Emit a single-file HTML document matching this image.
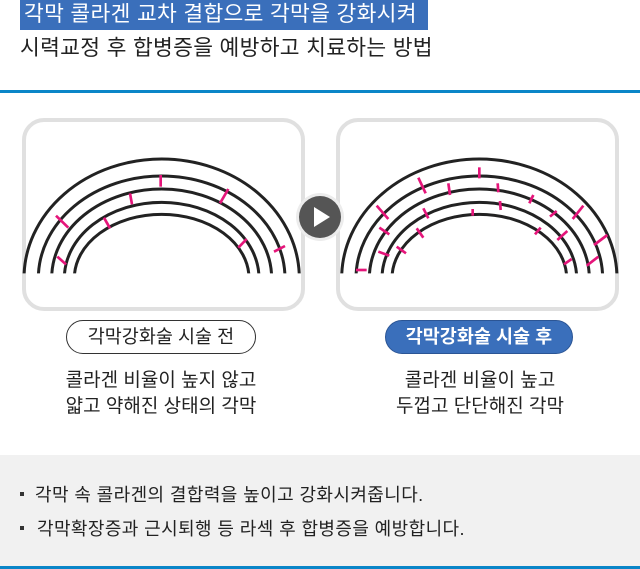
<!DOCTYPE html>
<html><head><meta charset="utf-8"><style>
body{margin:0;width:640px;height:569px;position:relative;background:#fff;font-family:"Liberation Sans","Noto Sans CJK KR",sans-serif;overflow:hidden}
.abs{position:absolute;white-space:nowrap}
.title{left:20px;top:0;width:408px;height:30px;background:#3a6fbb;color:#fff;font-size:21.5px;line-height:29px;padding-left:4px;box-sizing:border-box;letter-spacing:0.3px}
.sub{left:20px;top:33px;font-size:21.5px;color:#222;line-height:30px;letter-spacing:0.3px}
.line{left:0;width:640px;height:3px;background:#0a86c8}
.box{border:4px solid #e0e0e0;border-radius:22px;background:#fff;box-sizing:border-box}
.pill{height:34px;border-radius:17px;box-sizing:border-box;font-size:18.5px;line-height:31px;text-align:center}
.desc{font-size:19px;color:#222;line-height:26px;text-align:center}
.bul{left:35px;font-size:18px;color:#222;letter-spacing:0.4px}
.sq{position:absolute;left:20px;width:4px;height:4px;background:#333}
</style></head><body>
<div class="abs title">각막 콜라겐 교차 결합으로 각막을 강화시켜</div>
<div class="abs sub">시력교정 후 합병증을 예방하고 치료하는 방법</div>
<div class="abs line" style="top:90px"></div>

<div class="abs box" style="left:22px;top:118px;width:283px;height:193px"></div>
<div class="abs box" style="left:336px;top:118px;width:283px;height:193px"></div>

<svg class="abs" style="left:20px;top:115px" width="300" height="200" viewBox="0 0 900 600">
<defs><clipPath id="c1"><rect x="0" y="0" width="900" height="475"/></clipPath></defs>
<g clip-path="url(#c1)" fill="none" stroke="#222" stroke-width="9">
<ellipse cx="425" cy="490" rx="413" ry="358"/>
<ellipse cx="425" cy="490" rx="370" ry="307"/>
<ellipse cx="425" cy="490" rx="330" ry="268"/>
<ellipse cx="425" cy="490" rx="292" ry="228"/>
<ellipse cx="425" cy="490" rx="262" ry="192"/>
</g>
<g stroke="#e5157a" stroke-width="8">
<line x1="422" y1="180" x2="422" y2="215"/><line x1="330" y1="235" x2="336" y2="268"/>
<line x1="625" y1="222" x2="600" y2="265"/><line x1="108" y1="302" x2="145" y2="338"/>
<line x1="252" y1="308" x2="270" y2="340"/><line x1="112" y1="425" x2="138" y2="448"/>
<line x1="680" y1="372" x2="655" y2="398"/><line x1="795" y1="393" x2="762" y2="410"/>
</g></svg>

<svg class="abs" style="left:320px;top:115px" width="310" height="200" viewBox="0 0 930 600">
<defs><clipPath id="c2"><rect x="0" y="0" width="930" height="475"/></clipPath></defs>
<g clip-path="url(#c2)" fill="none" stroke="#222" stroke-width="9">
<ellipse cx="478" cy="490" rx="413" ry="358"/>
<ellipse cx="478" cy="490" rx="370" ry="307"/>
<ellipse cx="478" cy="490" rx="330" ry="268"/>
<ellipse cx="478" cy="490" rx="292" ry="228"/>
<ellipse cx="478" cy="490" rx="262" ry="192"/>
</g>
<g stroke="#e5157a" stroke-width="8">
<line x1="478" y1="157" x2="478" y2="190"/><line x1="295" y1="188" x2="317" y2="235"/>
<line x1="385" y1="205" x2="390" y2="240"/><line x1="533" y1="205" x2="535" y2="232"/>
<line x1="170" y1="272" x2="205" y2="312"/><line x1="310" y1="280" x2="325" y2="310"/>
<line x1="540" y1="258" x2="542" y2="285"/><line x1="458" y1="282" x2="458" y2="302"/>
<line x1="640" y1="240" x2="628" y2="265"/><line x1="790" y1="272" x2="758" y2="312"/>
<line x1="710" y1="288" x2="690" y2="305"/><line x1="178" y1="338" x2="208" y2="358"/>
<line x1="290" y1="340" x2="310" y2="368"/><line x1="662" y1="338" x2="645" y2="358"/>
<line x1="742" y1="348" x2="712" y2="375"/><line x1="862" y1="360" x2="822" y2="390"/>
<line x1="175" y1="410" x2="208" y2="422"/><line x1="230" y1="395" x2="258" y2="415"/>
<line x1="108" y1="465" x2="140" y2="465"/><line x1="755" y1="432" x2="732" y2="448"/>
<line x1="835" y1="425" x2="800" y2="452"/>
</g></svg>

<svg class="abs" style="left:295px;top:192px" width="50" height="50" viewBox="0 0 50 50">
<circle cx="25" cy="25" r="24" fill="#ececec"/>
<circle cx="25" cy="25" r="21" fill="#555"/>
<polygon points="19,15 19,35 35,25" fill="#fff"/>
</svg>

<div class="abs pill" style="left:66px;top:320px;width:190px;border:1.5px solid #333;color:#222;background:#fff">각막강화술 시술 전</div>
<div class="abs pill" style="left:385px;top:320px;width:188px;border:1.5px solid #2b5595;background:#3a6fbb;color:#fff;font-weight:bold">각막강화술 시술 후</div>
<div class="abs desc" style="left:51px;top:368px;width:220px">콜라겐 비율이 높지 않고<br>얇고 약해진 상태의 각막</div>
<div class="abs desc" style="left:370px;top:368px;width:220px">콜라겐 비율이 높고<br>두껍고 단단해진 각막</div>

<div class="abs" style="left:0;top:455px;width:640px;height:111px;background:#f1f1f1"></div>
<div class="sq" style="top:492px"></div>
<div class="sq" style="top:526px"></div>
<div class="abs bul" style="top:481px">각막 속 콜라겐의 결합력을 높이고 강화시켜줍니다.</div>
<div class="abs bul" style="top:515px;left:37px">각막확장증과 근시퇴행 등 라섹 후 합병증을 예방합니다.</div>
<div class="abs line" style="top:566px"></div>
</body></html>
